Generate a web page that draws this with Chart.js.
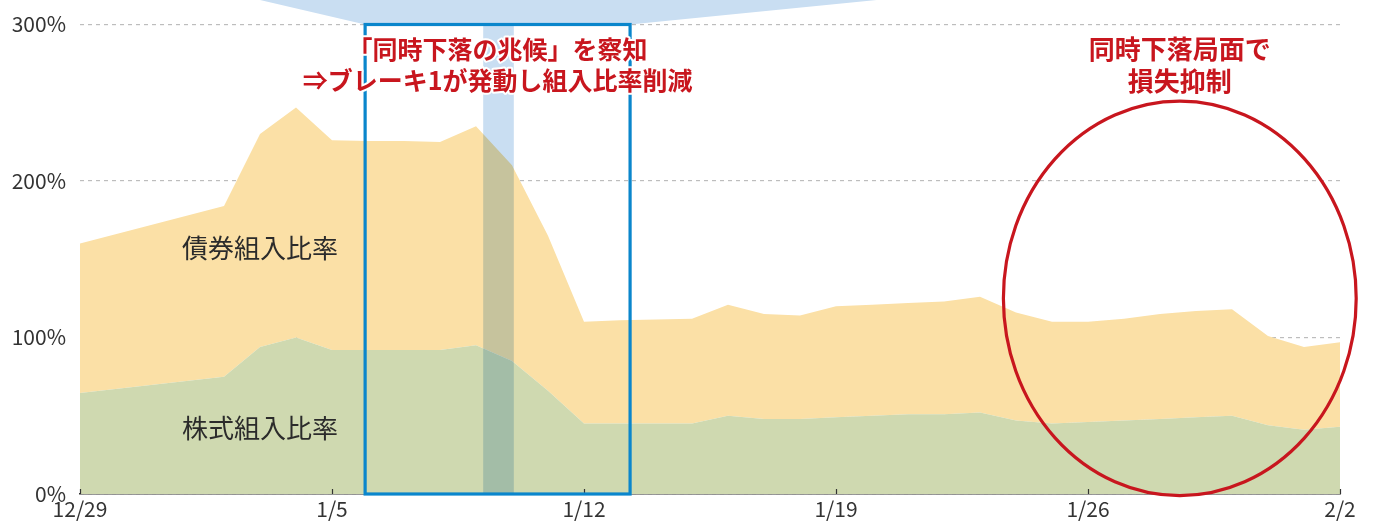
<!DOCTYPE html>
<html>
<head>
<meta charset="utf-8">
<script src="https://cdn.jsdelivr.net/npm/chart.js@4.4.0/dist/chart.umd.min.js"></script>
<style>
  html, body { margin:0; padding:0; background:#fff; }
  #wrap { width:1375px; height:525px; position:relative; }
</style>
</head>
<body>
<div id="wrap"><canvas id="mychart"></canvas></div>
<script>
// days since 12/29 (only the days that show a corner in the picture)
var days = [0,4,5,6,7,8,9,10,11,12,13,14,15,16,17,18,19,20,21,22,23,24,25,26,27,28,29,30,31,32,33,34,35]
// 株式組入比率 (%)
var stock = [64.5,75,94,100,92,92,92,92,95,85,66,45,45,45,45,50,48,48,49,50,51,51,52,47,45,46,47,48,49,50,44,41,43]
// 債券組入比率 (%) stacked on top of stock
var bond  = [95.5,109,136,147,134,133.5,133.5,133,140,125,99,65,66,66.5,67,71,67,66,71,71,71,72,74,69,65,64,65,67,68,68,57,53,54]
// x axis tick labels
var tickDays = [0,7,14,21,28,35]
var tickLabels = ['12/29','1/5','1/12','1/19','1/26','2/2']

var font = "'Noto Sans CJK JP', 'Noto Sans', sans-serif"

function pts(arr){
    var out = []
    for (var i = 0; i < days.length; i++) out.push({x: days[i], y: arr[i]})
    return out
}

// drawing of the notes over the chart
var notes = {
    id: 'notes',
    afterDatasetsDraw: function(chart){
        var ctx = chart.ctx
        var xs = chart.scales.x, ys = chart.scales.y
        var bottom = ys.getPixelForValue(0), top = ys.getPixelForValue(300)

        ctx.save()
        // small ticks on the axis (pointing up)
        ctx.strokeStyle = '#333'
        ctx.lineWidth = 1.2
        tickDays.forEach(function(d){
            var px = Math.round(xs.getPixelForValue(d)) + 0.5
            ctx.beginPath(); ctx.moveTo(px, bottom - 5); ctx.lineTo(px, bottom); ctx.stroke()
        })

        // light blue callout on top + vertical band
        ctx.globalCompositeOperation = 'multiply'
        ctx.fillStyle = '#c9def2'
        ctx.beginPath()
        ctx.moveTo(xs.getPixelForValue(5), 0)
        ctx.lineTo(xs.getPixelForValue(7.92), top)
        ctx.lineTo(xs.getPixelForValue(15.28), top)
        ctx.lineTo(xs.getPixelForValue(22.13), 0)
        ctx.closePath()
        ctx.fill()
        var b1 = xs.getPixelForValue(11.2), b2 = xs.getPixelForValue(12.05)
        ctx.fillRect(b1, top, b2 - b1, bottom - top)
        ctx.globalCompositeOperation = 'source-over'

        // blue box
        ctx.strokeStyle = '#0a86cc'
        ctx.lineWidth = 3.2
        var x1 = xs.getPixelForValue(7.92), x2 = xs.getPixelForValue(15.28)
        ctx.strokeRect(x1, top, x2 - x1, bottom - top)

        // red ellipse
        ctx.strokeStyle = '#c8161e'
        ctx.lineWidth = 3.2
        var cx = xs.getPixelForValue(30.55), cy = ys.getPixelForValue(125)
        var rx = xs.getPixelForValue(30.55 + 4.9) - cx
        var ry = cy - ys.getPixelForValue(125 + 126)
        ctx.beginPath(); ctx.ellipse(cx, cy, rx, ry, 0, 0, Math.PI * 2); ctx.stroke()

        // texts
        ctx.textAlign = 'center'
        ctx.textBaseline = 'middle'
        function txt(s, x, y, color, weight, size){
            ctx.font = weight + ' ' + size + 'px ' + font
            if (color !== '#2b2b2b') {
                ctx.lineWidth = 4; ctx.strokeStyle = '#fff'; ctx.lineJoin = 'round'
                ctx.strokeText(s, x, y)
            }
            ctx.fillStyle = color
            ctx.fillText(s, x, y)
        }
        txt('「同時下落の兆候」を察知', xs.getPixelForValue(11.6), ys.getPixelForValue(284), '#c8161e', 'bold', 25)
        txt('⇒ブレーキ1が発動し組入比率削減', xs.getPixelForValue(11.6), ys.getPixelForValue(264), '#c8161e', 'bold', 25)
        txt('同時下落局面で', xs.getPixelForValue(30.55), ys.getPixelForValue(284), '#c8161e', 'bold', 26)
        txt('損失抑制', xs.getPixelForValue(30.55), ys.getPixelForValue(264), '#c8161e', 'bold', 26)
        txt('債券組入比率', xs.getPixelForValue(5), ys.getPixelForValue(157), '#2b2b2b', 'normal', 26)
        txt('株式組入比率', xs.getPixelForValue(5), ys.getPixelForValue(42), '#2b2b2b', 'normal', 26)
        ctx.restore()
    }
}

var ctx = document.getElementById('mychart').getContext('2d')
var chart = new Chart(ctx, {
    type: 'line',
    data: {
        datasets: [
            {
                label: '株式組入比率',
                data: pts(stock),
                fill: 'origin',
                backgroundColor: '#cfd9b0',
                borderWidth: 0,
                pointRadius: 0,
                tension: 0
            },
            {
                label: '債券組入比率',
                data: pts(bond),
                fill: '-1',
                backgroundColor: '#fbe0a6',
                borderWidth: 0,
                pointRadius: 0,
                tension: 0
            }
        ]
    },
    options: {
        responsive: true,
        maintainAspectRatio: false,
        animation: false,
        layout: { padding: { top: 24, right: 35, bottom: 0, left: 0 } },
        plugins: { legend: { display: false }, tooltip: { enabled: false } },
        scales: {
            x: {
                type: 'linear',
                min: 0,
                max: 35,
                afterBuildTicks: function(axis){
                    axis.ticks = tickDays.map(function(d){ return {value: d} })
                },
                afterFit: function(axis){ axis.height = 31 },
                ticks: {
                    callback: function(v){ return tickLabels[tickDays.indexOf(v)] },
                    color: '#333',
                    font: { family: font, size: 21, lineHeight: 1 },
                    padding: 5,
                    maxRotation: 0,
                    autoSkip: false
                },
                grid: { display: false, drawTicks: false },
                border: { display: true, color: '#333', width: 1.5 }
            },
            y: {
                stacked: true,
                min: 0,
                max: 300,
                afterFit: function(axis){ axis.width = 80 },
                ticks: {
                    stepSize: 100,
                    callback: function(v){ return v + '%' },
                    color: '#333',
                    font: { family: font, size: 21, lineHeight: 1 },
                    padding: 14
                },
                grid: { color: '#bdbdbd', lineWidth: 1.2, drawTicks: false },
                border: { display: false, dash: [4, 4] }
            }
        }
    },
    plugins: [notes]
})
</script>
</body>
</html>
